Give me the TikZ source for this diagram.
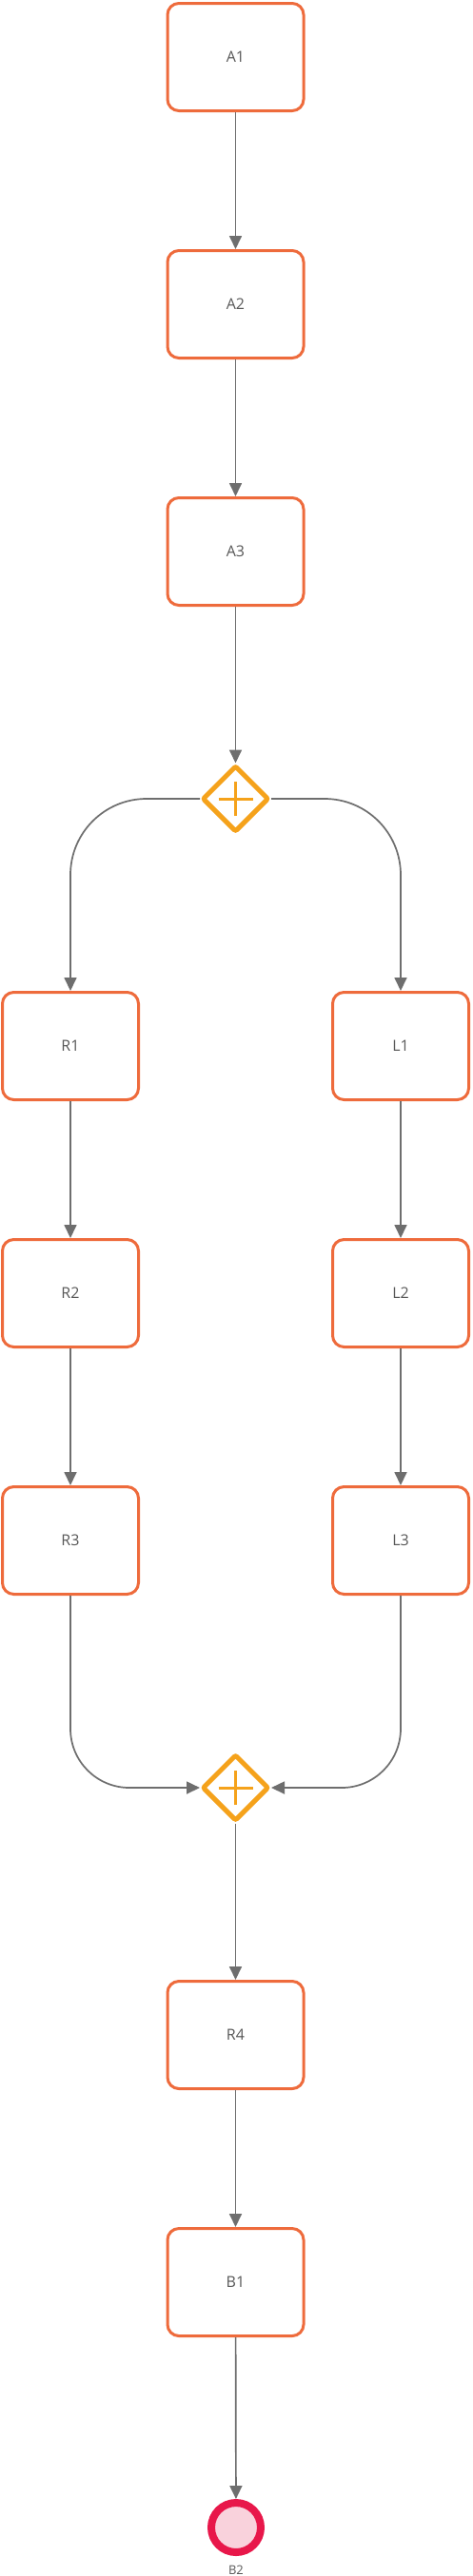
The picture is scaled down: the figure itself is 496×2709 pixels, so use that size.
\documentclass[tikz,border=0pt]{standalone}
\usepackage{fontspec}
\setmainfont{Open Sans}
\usetikzlibrary{shapes.geometric,arrows.meta}
\definecolor{boxline}{HTML}{EE6B3C}
\definecolor{txtgray}{HTML}{585858}
\definecolor{conngray}{HTML}{6E6E6E}
\definecolor{gateor}{HTML}{F5A21B}
\definecolor{endred}{HTML}{E8174A}
\definecolor{endfill}{HTML}{F9D2DC}
\tikzset{
  taskbox/.style={draw=boxline, line width=3pt, rounded corners=12pt, fill=white,
    minimum width=143pt, minimum height=113pt, inner sep=0pt,
    text=txtgray, font=\fontsize{16pt}{19pt}\selectfont},
  gatebox/.style={draw=gateor, line width=5pt, diamond, fill=white,
    minimum width=70pt, minimum height=70pt, inner sep=0pt, rounded corners=2pt},
  plusmark/.style={draw=gateor, line width=3pt},
  endev/.style={circle, draw=endred, fill=endfill, line width=8pt,
    minimum size=52pt, inner sep=0pt},
  conn/.style={draw=conngray, line width=1.7pt,
    -{Triangle[width=13pt,length=14pt]}},
  lbl/.style={text=txtgray, font=\fontsize{13pt}{15pt}\selectfont, inner sep=0pt}
}
\begin{document}
\begin{tikzpicture}[x=1pt,y=-1pt]
\useasboundingbox[fill=white] (0,0) rectangle (496,2709);
% tasks
\node[taskbox] (a1) at (247.5,60) {A1};
\node[taskbox] (a2) at (247.5,320) {A2};
\node[taskbox] (a3) at (247.5,580) {A3};
\node[gatebox] (g1) at (247.5,840) {};
\node[taskbox] (r1) at (74,1100) {R1};
\node[taskbox] (l1) at (421,1100) {L1};
\node[taskbox] (r2) at (74,1360) {R2};
\node[taskbox] (l2) at (421,1360) {L2};
\node[taskbox] (r3) at (74,1620) {R3};
\node[taskbox] (l3) at (421,1620) {L3};
\node[gatebox] (g2) at (247.5,1880) {};
\node[taskbox] (r4) at (247.5,2140) {R4};
\node[taskbox] (b1) at (247.5,2400) {B1};
\node[endev] (b2) at (248,2658) {};
\node[lbl] (b2l) at (248,2703) {B2};
% plus marks
\draw[plusmark] ([xshift=-18pt]g1.center) -- ([xshift=18pt]g1.center);
\draw[plusmark] ([yshift=-18pt]g1.center) -- ([yshift=18pt]g1.center);
\draw[plusmark] ([xshift=-18pt]g2.center) -- ([xshift=18pt]g2.center);
\draw[plusmark] ([yshift=-18pt]g2.center) -- ([yshift=18pt]g2.center);
% connectors
\draw[conn] (a1) -- (a2);
\draw[conn] (a2) -- (a3);
\draw[conn] (a3) -- (g1);
\draw[conn, rounded corners=80pt] (g1.west) -| (r1.north);
\draw[conn, rounded corners=80pt] (g1.east) -| (l1.north);
\draw[conn] (r1) -- (r2);
\draw[conn] (r2) -- (r3);
\draw[conn] (l1) -- (l2);
\draw[conn] (l2) -- (l3);
\draw[conn, rounded corners=62pt] (r3.south) |- (g2.west);
\draw[conn, rounded corners=62pt] (l3.south) |- (g2.east);
\draw[conn] (g2) -- (r4);
\draw[conn] (r4) -- (b1);
\draw[conn] (b1) -- (b2);
\end{tikzpicture}
\end{document}
